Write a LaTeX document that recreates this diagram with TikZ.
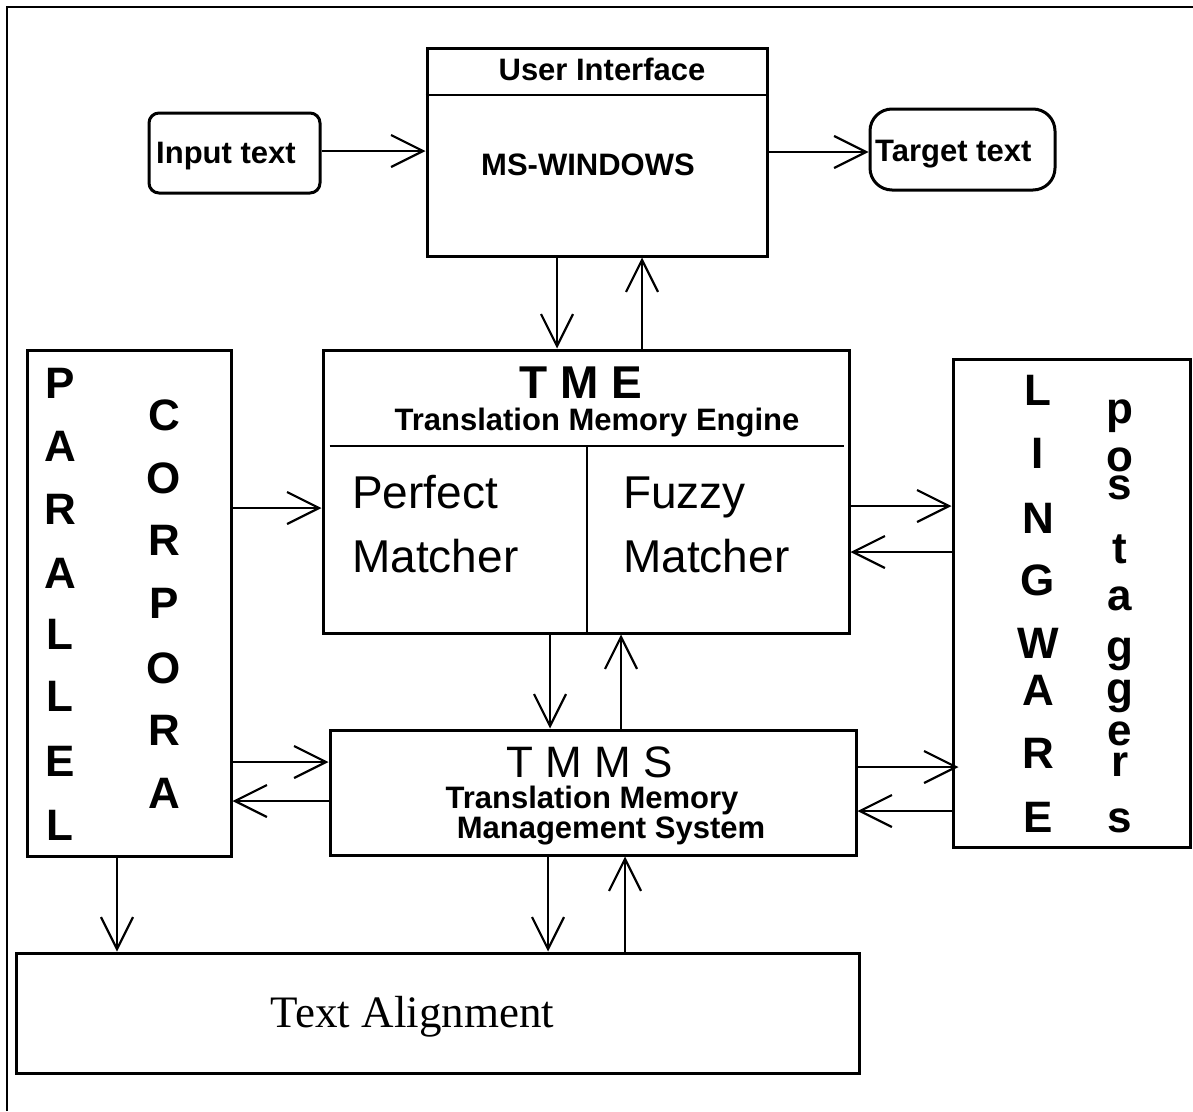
\documentclass[tikz,border=0pt]{standalone}
\usepackage{fontspec}
\setmainfont{Liberation Sans}
\newfontfamily\timesfont{Liberation Serif}
\usetikzlibrary{arrows.meta}
\begin{document}
\begin{tikzpicture}[x=1pt,y=-1pt,
  box/.style={draw, line width=3pt, inner sep=0pt},
  div/.style={line width=2.8pt},
  frame/.style={line width=2.8pt},
  arr/.style={line width=2.2pt, -{Straight Barb[length=32pt,width=32pt,line width=2.2pt]}},
  bl/.style={inner sep=0pt, anchor=base, font=\bfseries\fontsize{31}{37}\selectfont},
  big/.style={inner sep=0pt, anchor=base, font=\fontsize{46}{55}\selectfont},
  ltr/.style={inner sep=0pt, anchor=base, font=\bfseries\fontsize{44}{53}\selectfont},
]
\useasboundingbox (0,0) rectangle (1193,1111);
\draw[frame] (7,1111) -- (7,7) -- (1193,7);

% boxes
\node[box, minimum width=340pt, minimum height=208pt] (ui) at (597,152) {};
\node[box, rounded corners=10pt, minimum width=171pt, minimum height=80pt] (inp) at (234.5,153) {};
\node[box, rounded corners=22pt, minimum width=185pt, minimum height=81pt] (tgt) at (962.5,149.5) {};
\node[box, minimum width=526pt, minimum height=283pt] (tme) at (586,491.5) {};
\node[box, minimum width=204pt, minimum height=506pt] (pc) at (129,603) {};
\node[box, minimum width=237pt, minimum height=488pt] (ling) at (1071.5,603) {};
\node[box, minimum width=526pt, minimum height=125pt] (tmms) at (593,792.5) {};
\node[box, minimum width=843pt, minimum height=120pt] (ta) at (437.5,1013) {};

% dividers
\draw[div] (ui.west |- 0,95) -- (ui.east |- 0,95);
\draw[div] ([xshift=8pt]tme.west |- 0,446) -- ([xshift=-7pt]tme.east |- 0,446);
\draw[div] (587,446) -- (tme.south -| 587,0);

% texts
\node[bl] (uit) at (602,80) {User Interface};
\node[bl] (ms) at (588,175) {MS-WINDOWS};
\node[bl, anchor=base west] (inpt) at (156,163) {Input text};
\node[bl, anchor=base west] (tgtt) at (875,161) {Target text};
\node[inner sep=0pt, anchor=base, font=\bfseries\fontsize{46}{55}\selectfont] (tmet) at (581,398) {T M E};
\node[bl] (tmes) at (597,430) {Translation Memory Engine};
\node[big, anchor=base west] (pm1) at (352,508) {Perfect};
\node[big, anchor=base west] (pm2) at (352,572) {Matcher};
\node[big, anchor=base west] (fm1) at (623,508) {Fuzzy};
\node[big, anchor=base west] (fm2) at (623,572) {Matcher};
\node[inner sep=0pt, anchor=base, font=\fontsize{44}{53}\selectfont] (tmmst) at (590,777) {T M M S};
\node[bl] (tmms1) at (592,808) {Translation Memory};
\node[bl] (tmms2) at (611,838) {Management System};
\node[inner sep=0pt, anchor=base, font=\timesfont\fontsize{45}{54}\selectfont] (tat) at (412.5,1027) {Text Alignment};

% letter columns
\foreach \c/\y [count=\i] in {P/398,A/461,R/524,A/588,L/649,L/711,E/776,L/840}
  \node[ltr] (par\i) at (60,\y) {\c};
\foreach \c/\y [count=\i] in {C/430,O/493,R/555,P/618,O/683,R/745,A/808}
  \node[ltr] (cor\i) at (164,\y) {\c};
\foreach \c/\y [count=\i] in {L/405,I/468,N/533,G/595,W/658,A/705,R/768,E/832}
  \node[ltr] (lin\i) at (1038,\y) {\c};
\foreach \c/\y [count=\i] in {p/423,o/471,s/499,t/563,a/610,g/661,g/703,e/745,r/776,s/832}
  \node[ltr] (pos\i) at (1120,\y) {\c};

% arrows
\draw[arr] (inp.east |- 0,151) -- (ui.west |- 0,151);
\draw[arr] (ui.east |- 0,152) -- (tgt.west |- 0,152);
\draw[arr] (ui.south -| 557,0) -- (tme.north -| 557,0);
\draw[arr] (tme.north -| 642,0) -- (ui.south -| 642,0);
\draw[arr] (pc.east |- 0,508) -- (tme.west |- 0,508);
\draw[arr] (tme.east |- 0,506) -- (ling.west |- 0,506);
\draw[arr] (ling.west |- 0,552) -- (tme.east |- 0,552);
\draw[arr] (tme.south -| 550,0) -- (tmms.north -| 550,0);
\draw[arr] (tmms.north -| 621,0) -- (tme.south -| 621,0);
\draw[arr] (pc.east |- 0,762) -- (tmms.west |- 0,762);
\draw[arr] (tmms.west |- 0,801) -- (pc.east |- 0,801);
\draw[arr] (tmms.east |- 0,767) -- ([xshift=7pt]ling.west |- 0,767);
\draw[arr] (ling.west |- 0,811) -- (tmms.east |- 0,811);
\draw[arr] (pc.south -| 117,0) -- (ta.north -| 117,0);
\draw[arr] (tmms.south -| 548,0) -- (ta.north -| 548,0);
\draw[arr] (ta.north -| 625,0) -- (tmms.south -| 625,0);
\end{tikzpicture}
\end{document}
